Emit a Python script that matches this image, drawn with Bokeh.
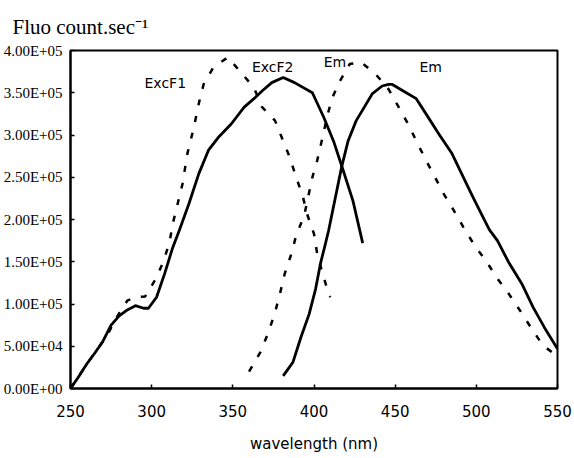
from bokeh.plotting import figure
from bokeh.models import FixedTicker, Label, Range1d
from bokeh.embed import file_html
from bokeh.resources import INLINE

# ---- data (wavelength nm, fluorescence counts/s) ----
excf2_wl = [250, 255, 260, 265, 270, 275, 280, 285, 290, 295, 298, 303, 308, 313, 317, 323, 329, 335, 341,
            349, 357, 363, 368, 374, 381, 388, 399, 406, 412, 418, 424, 430]
excf2_val = [0, 14000, 29000, 42000, 56000, 75000, 86000, 93000, 98000, 95000, 95000, 108000, 136000, 167000,
             187000, 219000, 254000, 282000, 297000, 313000, 333000, 343000, 352000, 362000, 368000, 362000,
             350000, 321000, 293000, 258000, 222000, 172000]

excf1_wl = [250, 260, 272, 279, 285, 290, 296, 302, 307, 311, 313, 319, 322, 326, 329, 332, 338, 347, 355,
            363, 368, 376, 381, 385, 389, 393, 396, 400, 402, 405, 409, 410]
excf1_val = [0, 29000, 61000, 86000, 104000, 108000, 109000, 128000, 149000, 173000, 195000, 242000, 278000,
             309000, 337000, 360000, 380000, 392000, 374000, 356000, 333000, 317000, 293000, 274000, 250000,
             228000, 205000, 183000, 159000, 138000, 112000, 108000]

em1_wl = [360, 367, 372, 376, 379, 382, 386, 389, 394, 399, 402, 405, 408, 411, 416, 422, 429, 438, 446, 458,
          463, 469, 474, 480, 486, 492, 499, 506, 513, 520, 527, 534, 541, 548, 550]
em1_val = [20000, 43000, 67000, 90000, 112000, 136000, 159000, 181000, 205000, 250000, 270000, 295000, 321000,
           343000, 364000, 384000, 386000, 372000, 354000, 313000, 293000, 270000, 252000, 230000, 211000,
           191000, 169000, 151000, 130000, 112000, 92000, 71000, 51000, 41000, 39000]

em2_wl = [381, 384, 387, 392, 397, 401, 404, 407, 409, 417, 421, 426, 431, 436, 442, 446, 448, 455, 463, 469,
          477, 485, 491, 497, 503, 508, 513, 520, 528, 535, 542, 550]
em2_val = [15000, 23000, 31000, 61000, 88000, 118000, 148000, 171000, 187000, 262000, 293000, 317000, 333000,
           349000, 358000, 360000, 360000, 352000, 343000, 325000, 301000, 278000, 254000, 230000, 207000,
           188000, 175000, 149000, 124000, 96000, 72000, 47000]

x_ticks = [250, 300, 350, 400, 450, 500, 550]
y_ticks = [0, 50000, 100000, 150000, 200000, 250000, 300000, 350000, 400000]
y_tick_labels = ["0.00E+00", "5.00E+04", "1.00E+05", "1.50E+05", "2.00E+05",
                 "2.50E+05", "3.00E+05", "3.50E+05", "4.00E+05"]

curve_labels = ["ExcF1", "ExcF2", "Em", "Em"]
curve_label_x = [295.6, 361.8, 406, 465]
curve_label_y = [361000, 380000, 386000, 380000]

y_title = "Fluo count.sec\u207b\u00b9"
x_title = "wavelength (nm)"

# ---- figure ----
p = figure(width=574, height=458, output_backend="svg", toolbar_location=None,
           x_range=Range1d(250, 550), y_range=Range1d(0, 400000),
           min_border_left=10, min_border_right=17, min_border_top=50, min_border_bottom=70)
p.background_fill_color = "white"
p.border_fill_color = "white"
p.xgrid.visible = False
p.ygrid.visible = False
p.outline_line_color = "black"
p.outline_line_width = 2
p.outline_line_alpha = 1

p.title.text = y_title
p.title.text_font = "Liberation Serif"
p.title.text_font_size = "21px"
p.title.text_font_style = "normal"
p.title.text_color = "black"
p.title.align = "left"
p.title.offset = -58
p.title.standoff = 24

p.xaxis.ticker = FixedTicker(ticks=x_ticks)
p.yaxis.ticker = FixedTicker(ticks=y_ticks)
p.yaxis.major_label_overrides = {v: s for v, s in zip(y_ticks, y_tick_labels)}
for ax in (p.xaxis, p.yaxis):
    ax.axis_line_color = "black"
    ax.axis_line_width = 2
    ax.major_tick_line_color = "black"
    ax.major_tick_line_width = 1.5
    ax.major_tick_in = 4
    ax.major_tick_out = 0
    ax.minor_tick_line_color = None
p.xaxis.major_label_text_font = "DejaVu Sans"
p.xaxis.major_label_text_font_size = "15px"
p.xaxis.major_label_text_color = "black"
p.xaxis.major_label_standoff = 16
p.xaxis.axis_label = x_title
p.xaxis.axis_label_text_font = "DejaVu Sans"
p.xaxis.axis_label_text_font_size = "15px"
p.xaxis.axis_label_text_font_style = "normal"
p.xaxis.axis_label_text_color = "black"
p.xaxis.axis_label_standoff = 15
p.yaxis.major_label_text_font = "Liberation Serif"
p.yaxis.major_label_text_font_size = "15px"
p.yaxis.major_label_text_color = "black"
p.yaxis.major_label_standoff = 8

# ---- curves ----
dash = "6 11"
p.line(excf1_wl, excf1_val, line_color="black", line_width=2.5, line_dash=dash)
p.line(em1_wl, em1_val, line_color="black", line_width=2.5, line_dash=dash)
p.line(excf2_wl, excf2_val, line_color="black", line_width=2.8, line_join="round")
p.line(em2_wl, em2_val, line_color="black", line_width=2.8, line_join="round")

for t, x, y in zip(curve_labels, curve_label_x, curve_label_y):
    p.add_layout(Label(x=x, y=y, text=t, text_font="DejaVu Sans", text_font_size="14px",
                       text_color="black", text_align="left", text_baseline="middle"))

open("out.html", "w").write(file_html(p, INLINE))
